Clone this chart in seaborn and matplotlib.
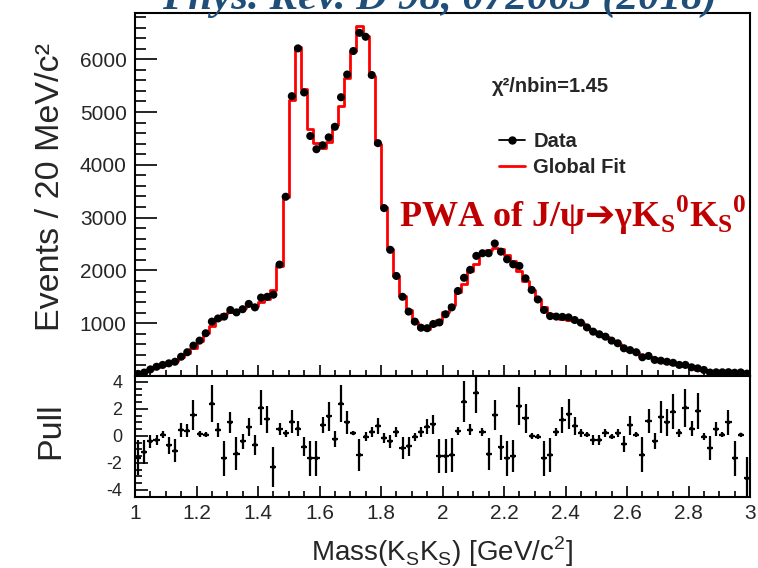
import numpy as np
import pandas as pd
import matplotlib
matplotlib.use("Agg")
import matplotlib.pyplot as plt
import seaborn as sns
from matplotlib.ticker import MultipleLocator, FixedLocator, FuncFormatter
from matplotlib.lines import Line2D

# ---------------- data (20 MeV bins from 1.0 to 3.0 GeV) ----------------
mass_range = (1.0, 3.0)
n_bins = 100

data_counts = [40, 65, 125, 175, 210, 240, 270, 365, 450, 575,
               670, 810, 1030, 1090, 1125, 1250, 1205, 1265, 1365, 1300,
               1485, 1500, 1540, 2110, 3395, 5300, 6205, 5370, 4545, 4295,
               4370, 4520, 4720, 5280, 5710, 6155, 6500, 6425, 5700, 4410,
               3180, 2390, 1895, 1500, 1220, 1030, 915, 905, 985, 1015,
               1170, 1300, 1610, 1860, 2010, 2275, 2325, 2325, 2510, 2355,
               2210, 2115, 2085, 1850, 1630, 1450, 1250, 1135, 1125, 1120,
               1110, 1060, 1010, 920, 840, 790, 745, 670, 620, 525,
               490, 450, 355, 380, 305, 290, 270, 250, 210, 210,
               165, 145, 115, 65, 70, 70, 72, 62, 68, 45]

fit_counts = [50, 75, 129, 179, 209, 251, 288, 356, 442, 538,
              666, 807, 953, 1075, 1180, 1215, 1250, 1279, 1341, 1323,
              1404, 1452, 1630, 2087, 3383, 5224, 6230, 5429, 4670, 4420,
              4325, 4423, 4750, 5106, 5645, 6160, 6630, 6445, 5675, 4400,
              3195, 2410, 1900, 1520, 1248, 1032, 906, 884, 958, 1063,
              1221, 1350, 1596, 1750, 1990, 2122, 2311, 2390, 2432, 2396,
              2288, 2184, 1984, 1794, 1630, 1452, 1308, 1182, 1115, 1080,
              1057, 1036, 1002, 917, 849, 798, 738, 671, 615, 539,
              472, 448, 381, 359, 312, 266, 254, 222, 206, 180,
              158, 123, 116, 72, 66, 69, 64, 75, 67, 68]

pull_values = [-1.6, -1.2, -0.4, -0.3, 0.1, -0.7, -1.1, 0.45, 0.4, 1.55,
               0.15, 0.1, 2.4, 0.45, -1.65, 1.0, -1.3, -0.4, 0.65, -0.65,
               2.1, 1.25, -2.3, 0.5, 0.2, 1.05, 0.55, -0.8, -1.65, -1.65,
               0.8, 1.45, -0.25, 2.4, 1.0, 0.2, -1.4, -0.05, 0.3, 0.75,
               -0.15, -0.4, 0.3, -0.9, -0.75, -0.05, 0.3, 0.7, 0.85, -1.5,
               -1.5, -1.4, 0.35, 2.55, 0.45, 3.2, 0.3, -1.35, 1.55, -0.85,
               -1.65, -1.5, 2.2, 1.3, 0.0, -0.05, -1.65, -1.4, 0.3, 1.2,
               1.6, 0.75, 0.25, 0.1, -0.3, -0.3, 0.25, -0.05, 0.2, -0.6,
               0.8, 0.1, -1.4, 1.1, -0.4, 1.4, 1.0, 1.8, 0.25, 2.1,
               0.55, 1.85, -0.05, -0.9, 0.5, 0.1, 1.0, -1.65, 0.1, -3.15]

pull_errors = [1.3, 0.9, 0.5, 0.4, 0.25, 0.6, 0.85, 0.5, 0.45, 1.1,
               0.2, 0.2, 1.4, 0.5, 1.3, 0.8, 1.2, 0.55, 0.65, 0.75,
               1.3, 1.0, 1.5, 0.45, 0.25, 0.85, 0.55, 0.7, 1.3, 1.3,
               0.6, 1.1, 0.6, 1.4, 0.85, 0.15, 1.2, 0.35, 0.4, 0.6,
               0.4, 0.5, 0.4, 0.8, 0.7, 0.3, 0.35, 0.55, 0.7, 1.25,
               1.25, 1.25, 0.3, 1.5, 0.4, 1.5, 0.3, 1.2, 1.1, 0.9,
               1.3, 1.2, 1.4, 1.1, 0.2, 0.2, 1.3, 1.25, 0.3, 0.95,
               1.1, 0.65, 0.3, 0.2, 0.4, 0.4, 0.3, 0.2, 0.3, 0.6,
               0.7, 0.2, 1.3, 0.9, 0.6, 1.2, 1.0, 1.3, 0.3, 1.4,
               0.55, 1.3, 0.25, 0.9, 0.5, 0.2, 0.9, 1.3, 0.15, 1.6]

y_ticks_top = [1000, 2000, 3000, 4000, 5000, 6000]
y_ticks_pull = [-4, -2, 0, 2, 4]

# ---------------- build table ----------------
edges = np.linspace(mass_range[0], mass_range[1], n_bins + 1)
centers = 0.5 * (edges[:-1] + edges[1:])
half_w = 0.5 * (edges[1] - edges[0])
df = pd.DataFrame({"mass": centers, "data": data_counts, "fit": fit_counts,
                   "pull": pull_values, "perr": pull_errors})

# ---------------- style ----------------
sns.set_style("ticks")
plt.rcParams["font.family"] = ["Liberation Sans", "DejaVu Sans"]
plt.rcParams["axes.linewidth"] = 1.5
plt.rcParams["axes.unicode_minus"] = False

W, H = 758, 568
fig = plt.figure(figsize=(W / 100, H / 100), dpi=100)
L, R = 135, 750
top_y0, top_y1 = 13, 376
pull_y1 = 497
ax = fig.add_axes([L / W, 1 - top_y1 / H, (R - L) / W, (top_y1 - top_y0) / H])
axp = fig.add_axes([L / W, 1 - pull_y1 / H, (R - L) / W, (pull_y1 - top_y1) / H])

# ---------------- top panel ----------------
sns.histplot(data=df, x="mass", weights="fit", bins=n_bins, binrange=mass_range,
             element="step", fill=False, color="#ff0000", linewidth=2.0, ax=ax,
             zorder=2)
sns.scatterplot(data=df, x="mass", y="data", color="black", s=34,
                edgecolor="none", ax=ax, zorder=3)

ax.set_xlim(*mass_range)
ax.set_ylim(0, 6875)
ax.xaxis.set_major_locator(MultipleLocator(0.2))
ax.xaxis.set_minor_locator(MultipleLocator(0.05))
ax.yaxis.set_major_locator(FixedLocator(y_ticks_top))
ax.yaxis.set_minor_locator(MultipleLocator(200))
ax.tick_params(axis="both", which="both", direction="in", top=False,
               right=False, color="black", width=1.2)
ax.tick_params(axis="y", which="major", length=16, labelsize=15, pad=6)
ax.tick_params(axis="y", which="minor", length=8)
ax.tick_params(axis="x", which="major", length=8, labelbottom=False)
ax.tick_params(axis="x", which="minor", length=4)
ax.set_xlabel("")
ax.set_ylabel("Events / 20 MeV/c²", fontsize=24.5)
ax.yaxis.set_label_coords(-0.112, 0.52)

handles = [Line2D([], [], color="black", marker="o", markersize=5, linewidth=1.3),
           Line2D([], [], color="#ff0000", linewidth=2.0)]
ax.legend(handles, ["Data", "Global Fit"], loc="upper left",
          bbox_to_anchor=(0.592, 0.672), frameon=False,
          prop={"weight": "bold", "size": 14.5}, handlelength=1.3,
          handletextpad=0.4, labelspacing=0.35, borderaxespad=0, borderpad=0)

fig.text(492 / W, 1 - 87 / H, "χ²/nbin=1.45", fontsize=14.5, fontweight="bold",
         va="center", ha="left")

fig.text(399 / W, 1 - 227 / H,
         r"PWA of J/ψ$➔$γK$_\mathregular{S}$$^\mathregular{0}$K$_\mathregular{S}$$^\mathregular{0}$",
         fontsize=26, fontweight="bold", color="#C00000", family="Liberation Serif",
         va="baseline", ha="left")

fig.text(440 / W, 1 - 9 / H, "Phys. Rev. D 98, 072003 (2018)", fontsize=31,
         fontweight="bold", fontstyle="italic", color="#1F4E79",
         family="Liberation Serif", va="baseline", ha="center")

# ---------------- pull panel ----------------
axp.errorbar(df["mass"], df["pull"], yerr=df["perr"], xerr=half_w, fmt="none",
             ecolor="black", elinewidth=1.6, capsize=0, zorder=2)
sns.scatterplot(data=df, x="mass", y="pull", color="black", s=8,
                edgecolor="none", ax=axp, zorder=3)
axp.set_xlim(*mass_range)
axp.set_ylim(-4.52, 4.44)
axp.xaxis.set_major_locator(MultipleLocator(0.2))
axp.xaxis.set_minor_locator(MultipleLocator(0.05))
axp.xaxis.set_major_formatter(FuncFormatter(lambda v, p: f"{v:g}"))
axp.yaxis.set_major_locator(FixedLocator(y_ticks_pull))
axp.yaxis.set_minor_locator(MultipleLocator(0.5))
axp.tick_params(axis="both", which="both", direction="in", top=False,
                right=False, color="black", width=1.2)
axp.tick_params(axis="y", which="major", length=9, labelsize=13, pad=9)
axp.tick_params(axis="y", which="minor", length=5)
axp.tick_params(axis="x", which="major", length=8, labelsize=15, pad=5)
axp.tick_params(axis="x", which="minor", length=4)
axp.set_ylabel("Pull", fontsize=24.5)
axp.yaxis.set_label_coords(-0.112, 0.55)
axp.set_xlabel(r"Mass(K$_\mathregular{S}$K$_\mathregular{S}$) [GeV/c$^\mathregular{2}$]",
               fontsize=20, labelpad=8)

for a in (ax, axp):
    for s in a.spines.values():
        s.set_visible(True)
        s.set_linewidth(1.5)
        s.set_color("black")

fig.savefig("out.png", dpi=100)
